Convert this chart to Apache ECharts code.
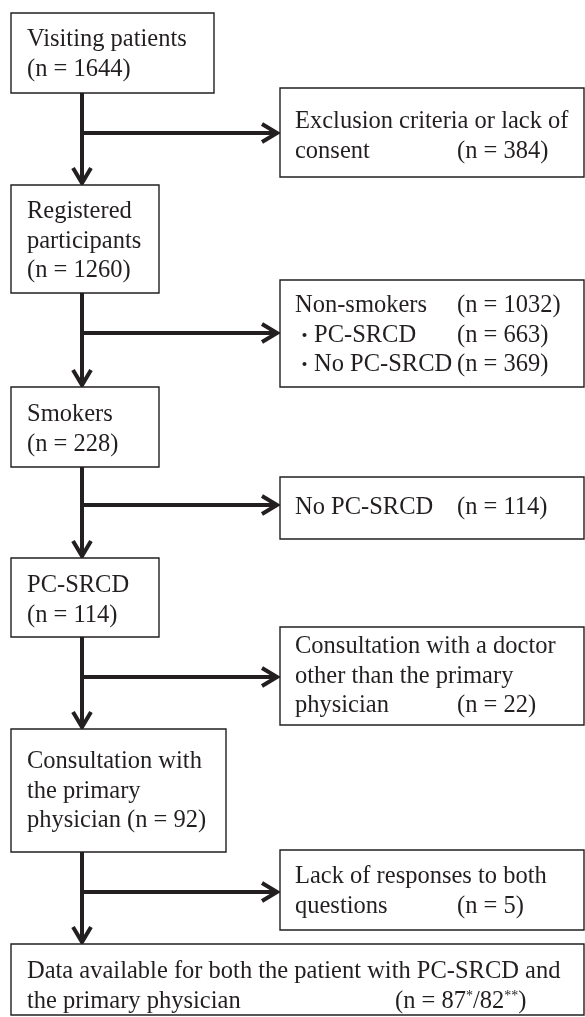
<!DOCTYPE html>
<html>
<head>
<meta charset="utf-8">
<script src="https://cdn.jsdelivr.net/npm/echarts@6/dist/echarts.min.js"></script>
<style>
html, body { margin: 0; padding: 0; background: #fff; }
#main { width: 585px; height: 1017px; }
</style>
</head>
<body>
<div id="main"></div>
<script>
// main flow (left column)
var stageText = [
	'Visiting patients\n(n = {n})',
	'Registered\nparticipants\n(n = {n})',
	'Smokers\n(n = {n})',
	'PC-SRCD\n(n = {n})',
	'Consultation with\nthe primary\nphysician (n = {n})',
	'Data available for both the patient with PC-SRCD and\nthe primary physician'
];
var stageN = ['1644', '1260', '228', '114', '92', ''];
var finalN = ['87', '82'];

// excluded branches (right column)
var exclText = [
	'Exclusion criteria or lack of\nconsent',
	'Non-smokers\n{b|・}PC-SRCD\n{b|・}No PC-SRCD',
	'No PC-SRCD',
	'Consultation with a doctor\nother than the primary\nphysician',
	'Lack of responses to both\nquestions'
];
var exclN = [[384], [1032, 663, 369], [114], [22], [5]];
var exclNLine = [[1], [0, 1, 2], [0], [2], [1]];

// layout (pixel space of the hidden axes)
var stageBox = [
	[11, 13, 214, 93],
	[11, 185, 159, 293],
	[11, 387, 159, 467],
	[11, 558, 159, 637],
	[11, 729, 226, 852],
	[11, 944, 584, 1015]
];
var stageTextY = [40, 212, 415, 586, 762, 972];
var exclBox = [
	[280, 88, 584, 177],
	[280, 280, 584, 387],
	[280, 477, 584, 539],
	[280, 627, 584, 725],
	[280, 850, 584, 930]
];
var exclTextY = [122, 306, 508, 647, 877];
var branchY = [133, 333, 505, 677, 892];
var trunkX = 82;
var countX = 457;
var lineH = 29.5;

var ink = '#231f20';
var font = "24.5px 'Liberation Serif', 'Noto Sans CJK JP', serif";
var rich = {
	s: { fontSize: 14, fontFamily: 'Liberation Serif', fill: ink, verticalAlign: 'top', lineHeight: 13 },
	b: { fontSize: 19, fontFamily: 'Noto Sans CJK JP', fill: ink }
};

var chart = echarts.init(document.getElementById('main'));

function boxItem(api, b, lines, tx, ty, extra) {
	var p0 = api.coord([b[0], b[1]]);
	var p1 = api.coord([b[2], b[3]]);
	var children = [{
		type: 'rect',
		shape: { x: p0[0], y: p0[1], width: p1[0] - p0[0], height: p1[1] - p0[1] },
		style: { fill: '#fff', stroke: ink, lineWidth: 1.4 }
	}];
	lines.forEach(function (t, k) {
		var p = api.coord([tx, ty + k * lineH]);
		children.push({
			type: 'text', x: p[0], y: p[1],
			style: { text: t, fill: ink, font: font, verticalAlign: 'middle', align: 'left', rich: rich }
		});
	});
	(extra || []).forEach(function (e) {
		var p = api.coord([e.x, ty + e.line * lineH]);
		children.push({
			type: 'text', x: p[0], y: p[1],
			style: { text: e.text, fill: ink, font: font, verticalAlign: 'middle', align: 'left', rich: rich }
		});
	});
	return { type: 'group', children: children };
}

function arrowItem(api, from, to) {
	var a = api.coord(from);
	var b = api.coord(to);
	var dx = b[0] - a[0], dy = b[1] - a[1];
	var len = Math.sqrt(dx * dx + dy * dy);
	var ux = dx / len, uy = dy / len;
	var back = 15, side = 9;
	var tip = [b[0] - ux * 2, b[1] - uy * 2];
	var w1 = [tip[0] - ux * back - uy * side, tip[1] - uy * back + ux * side];
	var w2 = [tip[0] - ux * back + uy * side, tip[1] - uy * back - ux * side];
	return {
		type: 'group',
		children: [{
			type: 'line',
			shape: { x1: a[0], y1: a[1], x2: tip[0], y2: tip[1] },
			style: { stroke: ink, lineWidth: 4 }
		}, {
			type: 'polyline',
			shape: { points: [w1, tip, w2] },
			style: { stroke: ink, lineWidth: 4, fill: null, lineJoin: 'miter' }
		}]
	};
}

// arrows: trunk segments and side branches
var arrowData = [];
for (var i = 0; i < stageBox.length - 1; i++) {
	arrowData.push([trunkX, stageBox[i][3], trunkX, stageBox[i + 1][1]]);
	arrowData.push([trunkX, branchY[i], exclBox[i][0] - 1, branchY[i]]);
}

var option = {
	backgroundColor: '#fff',
	animation: false,
	grid: { left: 0, right: 0, top: 0, bottom: 0 },
	xAxis: { type: 'value', min: 0, max: 585, show: false },
	yAxis: { type: 'value', min: 0, max: 1017, inverse: true, show: false },
	series: [{
		type: 'custom',
		name: 'arrows',
		data: arrowData,
		encode: { x: [0, 2], y: [1, 3] },
		silent: true,
		renderItem: function (params, api) {
			var d = arrowData[params.dataIndex];
			return arrowItem(api, [d[0], d[1]], [d[2], d[3]]);
		}
	}, {
		type: 'custom',
		name: 'stages',
		data: stageBox,
		encode: { x: [0, 2], y: [1, 3] },
		silent: true,
		renderItem: function (params, api) {
			var i = params.dataIndex;
			var lines = stageText[i].replace('{n}', stageN[i]).split('\n');
			var extra = [];
			if (i === stageBox.length - 1) {
				extra.push({
					x: 395, line: 1,
					text: '(n = ' + finalN[0] + '{s|*}/' + finalN[1] + '{s|**})'
				});
			}
			return boxItem(api, stageBox[i], lines, 27, stageTextY[i], extra);
		}
	}, {
		type: 'custom',
		name: 'excluded',
		data: exclBox,
		encode: { x: [0, 2], y: [1, 3] },
		silent: true,
		renderItem: function (params, api) {
			var i = params.dataIndex;
			var lines = exclText[i].split('\n');
			var extra = exclN[i].map(function (n, k) {
				return { x: countX, line: exclNLine[i][k], text: '(n = ' + n + ')' };
			});
			return boxItem(api, exclBox[i], lines, 295, exclTextY[i], extra);
		}
	}]
};

chart.setOption(option);
</script>
</body>
</html>
